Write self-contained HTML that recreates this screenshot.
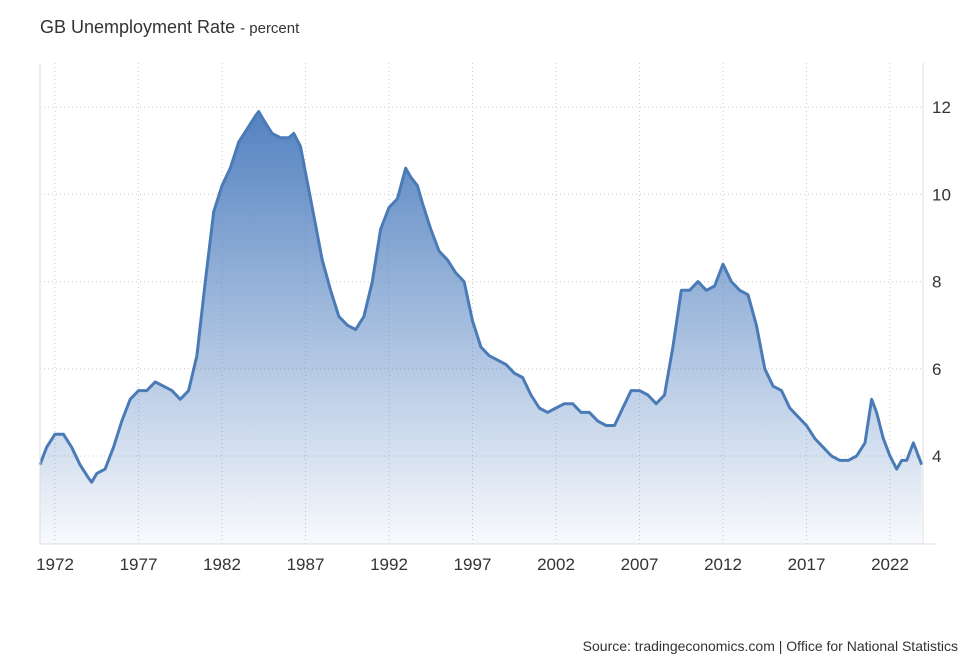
<!DOCTYPE html>
<html><head><meta charset="utf-8"><style>
body{margin:0;background:#fff;font-family:"Liberation Sans",sans-serif;}
#wrap{position:relative;width:975px;height:666px;}
</style></head><body>
<div id="wrap">
<svg id="svg" width="975" height="666">
<defs><linearGradient id="g" x1="0" y1="0" x2="0" y2="1">
<stop offset="0" stop-color="#4a7bbd" stop-opacity="0.95"/>
<stop offset="1" stop-color="#4a7bbd" stop-opacity="0.04"/></linearGradient></defs>
<text x="40" y="33" font-size="18" fill="#333">GB Unemployment Rate <tspan font-size="15"> - percent</tspan></text>
<text x="958" y="651" font-size="14" fill="#333" text-anchor="end">Source: tradingeconomics.com | Office for National Statistics</text>
<g id="grid"></g><g id="series"></g><g id="axes"></g>
</svg></div>
<script>
const years=[1971.1,1971.5,1972.0,1972.5,1973.0,1973.5,1974.0,1974.2,1974.5,1975.0,1975.5,1976.0,1976.5,1977.0,1977.5,1978.0,1978.5,1979.0,1979.5,1980.0,1980.5,1981.0,1981.5,1982.0,1982.5,1983.0,1983.5,1984.0,1984.2,1984.5,1985.0,1985.5,1986.0,1986.3,1986.7,1987.0,1987.5,1988.0,1988.5,1989.0,1989.5,1990.0,1990.5,1991.0,1991.5,1992.0,1992.5,1993.0,1993.3,1993.7,1994.0,1994.5,1995.0,1995.5,1996.0,1996.5,1997.0,1997.5,1998.0,1998.5,1999.0,1999.5,2000.0,2000.5,2001.0,2001.5,2002.0,2002.5,2003.0,2003.5,2004.0,2004.5,2005.0,2005.5,2006.0,2006.5,2007.0,2007.5,2008.0,2008.5,2009.0,2009.5,2010.0,2010.5,2011.0,2011.5,2012.0,2012.5,2013.0,2013.5,2014.0,2014.5,2015.0,2015.5,2016.0,2016.5,2017.0,2017.5,2018.0,2018.5,2019.0,2019.5,2020.0,2020.5,2020.9,2021.2,2021.6,2022.0,2022.4,2022.7,2023.0,2023.4,2023.9];
const rates=[3.8,4.2,4.5,4.5,4.2,3.8,3.5,3.4,3.6,3.7,4.2,4.8,5.3,5.5,5.5,5.7,5.6,5.5,5.3,5.5,6.3,8.0,9.6,10.2,10.6,11.2,11.5,11.8,11.9,11.7,11.4,11.3,11.3,11.4,11.1,10.5,9.5,8.5,7.8,7.2,7.0,6.9,7.2,8.0,9.2,9.7,9.9,10.6,10.4,10.2,9.8,9.2,8.7,8.5,8.2,8.0,7.1,6.5,6.3,6.2,6.1,5.9,5.8,5.4,5.1,5.0,5.1,5.2,5.2,5.0,5.0,4.8,4.7,4.7,5.1,5.5,5.5,5.4,5.2,5.4,6.5,7.8,7.8,8.0,7.8,7.9,8.4,8.0,7.8,7.7,7.0,6.0,5.6,5.5,5.1,4.9,4.7,4.4,4.2,4.0,3.9,3.9,4.0,4.3,5.3,5.0,4.4,4.0,3.7,3.9,3.9,4.3,3.8];
const xTicks=[1972,1977,1982,1987,1992,1997,2002,2007,2012,2017,2022];
const yTicks=[4,6,8,10,12];
const L=40,R=923,T=63,B=544;
const x=v=>55+(v-1972)*(890-55)/50;
const y=v=>456-(v-4)*43.6;
const NS="http://www.w3.org/2000/svg";
function mk(tag,attrs,parent){const e=document.createElementNS(NS,tag);for(const k in attrs)e.setAttribute(k,attrs[k]);document.getElementById(parent).appendChild(e);return e;}
xTicks.forEach(t=>{
 const g=mk('line',{x1:x(t),x2:x(t),y1:T,y2:B,stroke:'#ccc','stroke-dasharray':'1,3'},'grid');
 
 
 const tx=mk('text',{x:x(t),y:570,'font-size':17,fill:'#333','text-anchor':'middle'},'axes');
 tx.textContent=t;
 
 
});
yTicks.forEach(t=>{
 const g=mk('line',{x1:L,x2:R,y1:y(t),y2:y(t),stroke:'#ccc','stroke-dasharray':'1,3'},'grid');
 
 
 const tx=mk('text',{x:932,y:y(t)+6,'font-size':17,fill:'#333'},'axes');
 tx.textContent=t;
 
 
});
const ax=mk('path',{d:`M${L},${T}V${B}H${R+12}M${R},${T}V${B}`,stroke:'#ddd',fill:'none'},'axes');


let d=years.map((v,i)=>(i?'L':'M')+x(v).toFixed(1)+','+y(rates[i]).toFixed(1)).join('');
const area=mk('path',{d:d+`L${x(years[years.length-1])},${B}L${x(years[0])},${B}Z`,fill:'url(#g)'},'series');


const line=mk('path',{d:d,fill:'none',stroke:'#4a7bb7','stroke-width':3,'stroke-linejoin':'round'},'series');


</script>
</body></html>
